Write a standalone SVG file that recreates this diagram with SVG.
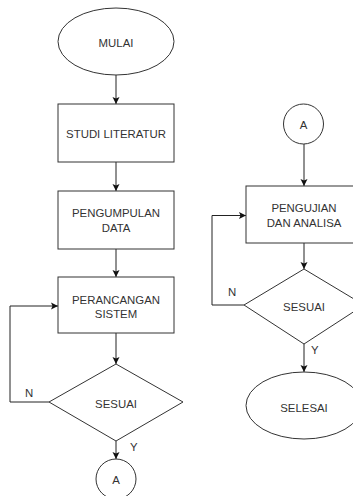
<svg xmlns="http://www.w3.org/2000/svg" width="353" height="496" viewBox="0 0 353 496">
<defs>
<style>
.s{fill:#fff;stroke:#333;stroke-width:1}
.t{font-family:"Liberation Sans",Arial,sans-serif;font-size:11.4px;fill:#333;text-anchor:middle}
.l{font-family:"Liberation Sans",Arial,sans-serif;font-size:11.4px;fill:#333}
.c{fill:none;stroke:#222;stroke-width:1}
</style>
<marker id="ah" markerWidth="8" markerHeight="8" refX="7" refY="4" orient="auto" markerUnits="userSpaceOnUse">
<path d="M0,0.5 L7,4 L0,7.5 L1.5,4 Z" fill="#111"/>
</marker>
</defs>
<rect width="353" height="496" fill="#fff"/>
<g id="connectors">
<path class="c" d="M116,75 V104" marker-end="url(#ah)"/>
<path class="c" d="M116,162 V191" marker-end="url(#ah)"/>
<path class="c" d="M116,249 V277" marker-end="url(#ah)"/>
<path class="c" d="M116,333 V364" marker-end="url(#ah)"/>
<path class="c" d="M49,402 H10 V306 H58" marker-end="url(#ah)"/>
<path class="c" d="M116,441 V459" marker-end="url(#ah)"/>
<path class="c" d="M304,144 V186" marker-end="url(#ah)"/>
<path class="c" d="M304,243 V269" marker-end="url(#ah)"/>
<path class="c" d="M244,305 H212 V215.5 H246" marker-end="url(#ah)"/>
<path class="c" d="M304,344 V372" marker-end="url(#ah)"/>
<text class="l" x="25" y="397">N</text>
<text class="l" x="130" y="451">Y</text>
<text class="l" x="228" y="296">N</text>
<text class="l" x="311" y="354">Y</text>
</g>
<g id="mulai"><ellipse class="s" cx="116" cy="41.5" rx="58" ry="33.5"/><text class="t" x="116" y="46.5">MULAI</text></g>
<g id="studi"><rect class="s" x="58" y="104" width="116" height="58"/><text class="t" x="116" y="138">STUDI LITERATUR</text></g>
<g id="pengumpulan"><rect class="s" x="58" y="191" width="116" height="58"/><text class="t" x="116" y="217">PENGUMPULAN</text><text class="t" x="116" y="232">DATA</text></g>
<g id="perancangan"><rect class="s" x="58" y="277" width="116" height="56"/><text class="t" x="116" y="304">PERANCANGAN</text><text class="t" x="116" y="317.5">SISTEM</text></g>
<g id="sesuai1"><polygon class="s" points="116,364 183,402 116,441 49,402"/><text class="t" x="116" y="408">SESUAI</text></g>
<g id="a1"><circle class="s" cx="116" cy="479" r="20"/><text class="t" x="116" y="484">A</text></g>
<g id="a2"><circle class="s" cx="303.5" cy="124" r="20"/><text class="t" x="303.5" y="129">A</text></g>
<g id="pengujian"><rect class="s" x="246" y="186" width="116" height="57"/><text class="t" x="304" y="212">PENGUJIAN</text><text class="t" x="304" y="226.5">DAN ANALISA</text></g>
<g id="sesuai2"><polygon class="s" points="304,269 364,305 304,344 244,305"/><text class="t" x="304" y="311">SESUAI</text></g>
<g id="selesai"><ellipse class="s" cx="304" cy="405.5" rx="58" ry="33.5"/><text class="t" x="304" y="412">SELESAI</text></g>
</svg>
